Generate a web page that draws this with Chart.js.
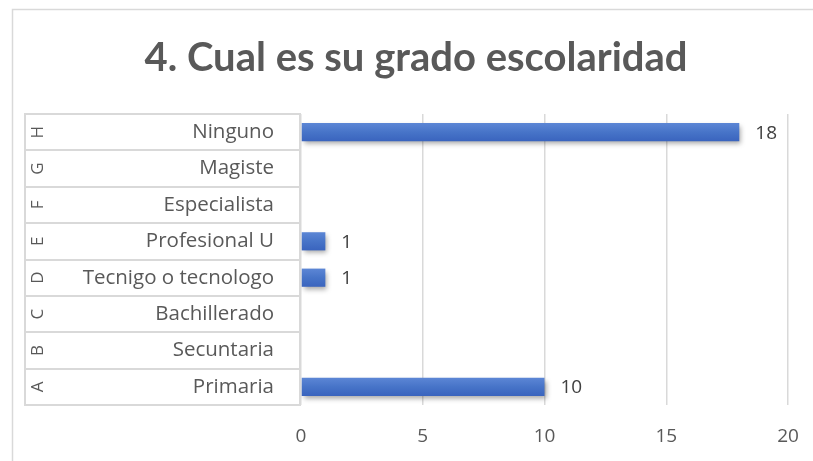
<!DOCTYPE html>
<html><head><meta charset="utf-8">
<script src="https://cdn.jsdelivr.net/npm/chart.js@4.4.0/dist/chart.umd.min.js"></script>
<style>html,body{margin:0;padding:0;background:#fff}#wrap{width:813px;height:461px}</style>
</head><body><div id="wrap"><canvas id="c" width="813" height="461"></canvas></div>
<script>
const titleText = '4. Cual es su grado escolaridad';
const letters = ['A','B','C','D','E','F','G','H'];
const categories = ['Primaria','Secuntaria','Bachillerado','Tecnigo o tecnologo','Profesional U','Especialista','Magiste','Ninguno'];
const values = [10,0,0,1,1,0,0,18];
const xTicks = [0,5,10,15,20];

const TFONT = 'Lato, "Open Sans", sans-serif';
const FONT = '"Open Sans", Lato, sans-serif';
const GRID = '#d9d9d9';
const TEXT = '#595959';

function barFill(ctx){
  const chart = ctx.chart;
  const ys = chart.scales.y;
  if(!chart.chartArea || !ys || ctx.dataIndex===undefined) return '#4472c4';
  const yc = ys.getPixelForValue(ctx.dataIndex);
  const h = 9;
  const g = chart.ctx.createLinearGradient(0, yc-h, 0, yc+h);
  g.addColorStop(0, '#5c86d5');
  g.addColorStop(0.5, '#4774c8');
  g.addColorStop(1, '#3a64be');
  return g;
}

const framePlugin = {
  id:'frame',
  beforeDraw(chart){
    const c = chart.ctx;
    c.save();
    c.fillStyle='#fff'; c.fillRect(0,0,chart.width,chart.height);
    c.strokeStyle='#d9d9d9'; c.lineWidth=1.5;
    c.strokeRect(12.5,9.5,chart.width+20,chart.height+20);
    c.restore();
  },
  afterDraw(chart){
    const c = chart.ctx, ys = chart.scales.y, area = chart.chartArea;
    const left = 25, right = area.left;
    c.save();
    c.strokeStyle = GRID; c.lineWidth = 2;
    const n = categories.length;
    const step = (area.bottom-area.top)/n;
    for(let i=0;i<=n;i++){
      const y = Math.round(area.top + i*step);
      c.beginPath(); c.moveTo(left, y); c.lineTo(right, y); c.stroke();
    }
    c.beginPath(); c.moveTo(left, area.top-1); c.lineTo(left, area.bottom+1); c.stroke();
    c.beginPath(); c.moveTo(right-1, area.top-1); c.lineTo(right-1, area.bottom+1); c.stroke();
    c.fillStyle = TEXT; c.font = '17px '+FONT; c.textAlign='center'; c.textBaseline='middle';
    letters.forEach((L,i)=>{
      const y = ys.getPixelForValue(i);
      c.save(); c.translate(38, y); c.rotate(-Math.PI/2); c.fillText(L,0,0); c.restore();
    });
    c.restore();
  },
  beforeDatasetsDraw(chart){
    const c = chart.ctx; c.save();
    c.shadowColor='rgba(0,0,0,0.35)'; c.shadowBlur=5; c.shadowOffsetX=2; c.shadowOffsetY=3;
  },
  afterDatasetsDraw(chart){
    const c = chart.ctx; c.restore();
    const meta = chart.getDatasetMeta(0);
    c.save();
    c.fillStyle='#404040'; c.font='19px '+FONT; c.textAlign='left'; c.textBaseline='middle';
    meta.data.forEach((bar,i)=>{
      const v = chart.data.datasets[0].data[i];
      if(!v) return;
      c.fillText(String(v), bar.x+16, bar.y+1);
    });
    c.restore();
  }
};

new Chart(document.getElementById('c'), {
  type:'bar',
  data:{ labels: categories, datasets:[{ data: values, backgroundColor: barFill, borderWidth:0, barPercentage:0.5, categoryPercentage:1 }]},
  options:{
    indexAxis:'y', responsive:false, animation:false, devicePixelRatio:1,
    layout:{ padding:{ left:44, right:25, top:20, bottom:0 } },
    plugins:{
      legend:{display:false}, tooltip:{enabled:false},
      title:{ display:true, text:titleText, color:TEXT, font:{family:TFONT, size:40, weight:'bold', lineHeight:1.2}, padding:{top:14, bottom:32} }
    },
    scales:{
      x:{ min:xTicks[0], max:xTicks[xTicks.length-1],
          afterBuildTicks(s){ s.ticks = xTicks.map(v=>({value:v})); },
          afterFit(s){ s.height = 56; s.paddingLeft = 0; s.paddingRight = 0; },
          grid:{ color:GRID, lineWidth:1.5, drawTicks:false }, border:{display:false},
          ticks:{ color:TEXT, font:{family:FONT, size:19}, padding:20 } },
      y:{ reverse:true,
          afterFit(s){ s.width = 257; s.paddingTop = 0; s.paddingBottom = 0; },
          grid:{ display:false }, border:{display:false},
          ticks:{ color:TEXT, font:{family:FONT, size:20.5}, padding:19, crossAlign:'near' } }
    }
  },
  plugins:[framePlugin]
});
</script></body></html>
